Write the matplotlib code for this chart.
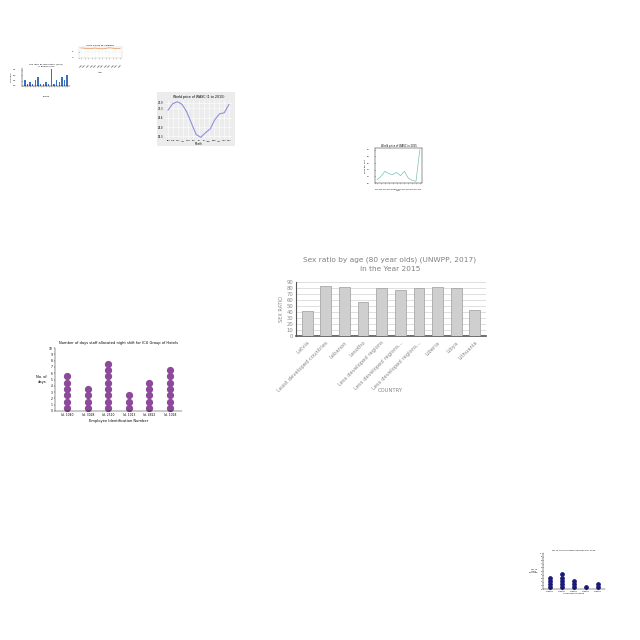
import numpy as np
import matplotlib
matplotlib.use("Agg")
import matplotlib.pyplot as plt

# main chart data
countries = ["Latvia", "Least developed countries", "Lebanon", "Lesotho",
             "Less developed regions", "Less developed regions...",
             "Less developed regions...", "Liberia", "Libya", "Lithuania"]
sex_ratio = [42, 83, 81, 56, 80, 77, 80, 82, 80, 44]

# small blue bar chart
blue_vals = [3, 1, 2, 1, 3, 4, 1, 1, 2, 1, 8, 1, 3, 2, 4, 3, 5]
# small orange line
orange_vals = [8.2, 8.0, 7.6, 7.8, 8.1, 7.7, 7.5, 7.9, 8.3, 8.0, 7.6, 7.8]
# world price line
months = ["Jan", "Feb", "Mar", "Apr", "May", "Jun", "Jul", "Jul", "Aug", "Sep", "Oct", "Nov", "Dec"]
price_vals = [0.75, 0.92, 0.97, 0.9, 0.7, 0.4, 0.1, 0.03, 0.15, 0.25, 0.5, 0.65, 0.68, 0.9]
# teal line
teal_vals = [0.1, 0.2, 0.35, 0.28, 0.25, 0.32, 0.22, 0.35, 0.15, 0.08, 0.05, 1.0]
# purple dot chart
emp_ids = ["Id. 1040", "Id. 3028", "Id. 2510", "Id. 1013", "Id. 4822", "Id. 1018"]
night_days = [6, 4, 8, 3, 5, 7]
# navy dot chart
navy_cats = ["A", "B", "C", "D", "E"]
navy_counts = [4, 5, 3, 1, 2]

W = 640.0
def box(x0, y0, x1, y1):
    return [x0 / W, 1 - y1 / W, (x1 - x0) / W, (y1 - y0) / W]

fig = plt.figure(figsize=(6.4, 6.4), dpi=100)
fig.patch.set_facecolor("white")
grey = "#888888"

# ---- main bar chart
ax = fig.add_axes(box(296, 282, 486, 336))
x = np.arange(len(countries))
ax.bar(x, sex_ratio, width=0.58, color="#cfcfcf", edgecolor="#a8a8a8", linewidth=0.6, zorder=3)
ax.set_ylim(0, 90)
ax.set_yticks(range(0, 91, 10))
ax.set_xlim(-0.6, len(countries) - 0.4)
ax.grid(axis="y", color="#d9d9d9", linewidth=0.6, zorder=0)
ax.set_xticks(x)
ax.set_xticklabels(countries, rotation=45, ha="right", rotation_mode="anchor", fontsize=3.8, color=grey)
ax.tick_params(axis="y", labelsize=3.8, colors=grey, length=0, pad=2)
ax.tick_params(axis="x", length=0, pad=3)
for s in ["top", "right"]:
    ax.spines[s].set_visible(False)
ax.spines["left"].set_color("#555555")
ax.spines["bottom"].set_color("#555555")
ax.spines["bottom"].set_linewidth(1.2)
ax.set_ylabel("SEX RATIO", fontsize=3.6, color=grey, labelpad=1.5)
fig.text(390 / W, 1 - 391 / W, "COUNTRY", fontsize=3.8, color=grey, ha="center", va="center")
fig.text(390 / W, 1 - 264 / W, "Sex ratio by age (80 year olds) (UNWPP, 2017)\nin the Year 2015",
         fontsize=5.3, color="#808080", ha="center", va="center", linespacing=1.6)

# ---- small blue bar chart
a1 = fig.add_axes(box(22, 68, 70, 86))
a1.bar(np.arange(len(blue_vals)), blue_vals, width=0.5, color="#3b6fc4")
a1.set_xticks(np.arange(len(blue_vals)))
a1.set_xticklabels([""] * len(blue_vals))
a1.tick_params(labelsize=1.5, length=0.5, width=0.3)
for s in ["top", "right"]:
    a1.spines[s].set_visible(False)
for s in ["left", "bottom"]:
    a1.spines[s].set_linewidth(0.3)
a1.set_title("Sex ratio by population (2017)\nin Region 2015", fontsize=1.6, pad=1)
a1.set_ylabel("Sex ratio", fontsize=1.5, labelpad=0.5)
a1.set_xlabel("Region", fontsize=1.5, labelpad=3)

# ---- small orange line chart
a2 = fig.add_axes(box(79, 47, 122, 58))
a2.plot(orange_vals, color="#e8a070", linewidth=0.6)
a2.set_ylim(0, 9)
a2.set_xticks(range(len(orange_vals)))
a2.set_xticklabels(["item"] * len(orange_vals), rotation=45, fontsize=1.5)
a2.tick_params(labelsize=1.5, length=0.5, width=0.3)
a2.grid(color="#eeeeee", linewidth=0.3)
for s in a2.spines.values():
    s.set_linewidth(0.3)
    s.set_color("#cccccc")
a2.set_title("Index values by category", fontsize=1.6, pad=1)
a2.set_xlabel("Item", fontsize=1.5, labelpad=3)

# ---- world price line chart
fig.patches.append(plt.Rectangle((157 / W, 1 - 146 / W), 78 / W, 54 / W, transform=fig.transFigure,
                                 facecolor="#ececec", edgecolor="none", zorder=-1))
a3 = fig.add_axes(box(165, 100, 232, 139))
a3.set_facecolor("#ececec")
a3.plot(np.arange(len(price_vals)), price_vals, color="#8f8fe0", linewidth=0.8)
a3.set_xticks(np.linspace(0, len(price_vals) - 1, len(months)))
a3.set_xticklabels(months, fontsize=1.7)
a3.set_yticks([0.05, 0.3, 0.55, 0.8, 0.95])
a3.set_yticklabels(["25.3", "26.0", "26.6", "27.3", "27.9"], fontsize=1.8)
a3.tick_params(length=0, pad=1)
a3.grid(color="white", linewidth=0.4)
for s in a3.spines.values():
    s.set_visible(False)
a3.set_title("World price of WASC (1 to 2015)", fontsize=2.3, pad=1.5)
a3.set_xlabel("Month", fontsize=1.8, labelpad=0.5)

# ---- teal line chart
a4 = fig.add_axes(box(375, 148, 422, 183))
a4.plot(teal_vals, color="#7cc0b8", linewidth=0.5)
a4.set_ylim(0, 1.05)
a4.set_xticks(range(len(teal_vals)))
a4.set_xticklabels([str(1990 + i) for i in range(len(teal_vals))], fontsize=1.3)
a4.tick_params(labelsize=1.3, length=0.5, width=0.3)
for s in a4.spines.values():
    s.set_linewidth(0.3)
a4.set_title("World price of WASC in 2015", fontsize=1.8, pad=1)
a4.set_ylabel("Price per unit", fontsize=1.5, labelpad=0.5)
a4.set_xlabel("Year", fontsize=1.5, labelpad=0.5)

# ---- purple dot chart
a5 = fig.add_axes(box(55, 348, 182, 411))
for i, n in enumerate(night_days):
    a5.plot([i] * n, np.arange(n) + 0.5, "o", color="#8e4a9a", markersize=4.2)
a5.set_ylim(0, 10)
a5.set_yticks(range(0, 11))
a5.set_xlim(-0.6, len(emp_ids) - 0.4)
a5.set_xticks(range(len(emp_ids)))
a5.set_xticklabels(emp_ids, fontsize=2.2)
a5.tick_params(labelsize=2.2, length=0.8, width=0.3, pad=1)
for s in ["top", "right"]:
    a5.spines[s].set_visible(False)
for s in ["left", "bottom"]:
    a5.spines[s].set_linewidth(0.3)
a5.set_title("Number of days staff allocated night shift for ICU Group of Hotels", fontsize=2.6, pad=3)
a5.set_ylabel("No. of\ndays", fontsize=2.6, rotation=0, labelpad=5, va="center")
a5.set_xlabel("Employee Identification Number", fontsize=2.6, labelpad=1)

# ---- navy dot chart
a6 = fig.add_axes(box(543, 553, 605, 589))
for i, n in enumerate(navy_counts):
    a6.plot([i] * n, np.arange(n) * 0.9 + 0.45, "o", color="#1a1a7a", markersize=2.4)
a6.set_ylim(0, 10)
a6.set_yticks(range(0, 11))
a6.set_xlim(-0.6, len(navy_cats) - 0.4)
a6.set_xticks(range(len(navy_cats)))
a6.set_xticklabels(["Category"] * len(navy_cats), fontsize=1.3)
a6.tick_params(labelsize=1.3, length=0.5, width=0.3, pad=0.5)
for s in ["top", "right"]:
    a6.spines[s].set_visible(False)
for s in ["left", "bottom"]:
    a6.spines[s].set_linewidth(0.3)
a6.set_title("No. of items recorded per group for 2015", fontsize=1.5, pad=1.5)
a6.set_ylabel("No. of\nitems\nrecorded", fontsize=1.5, rotation=0, labelpad=4, va="center")
a6.set_xlabel("Group identification", fontsize=1.5, labelpad=1)

fig.savefig("out.png", dpi=100, facecolor="white")
